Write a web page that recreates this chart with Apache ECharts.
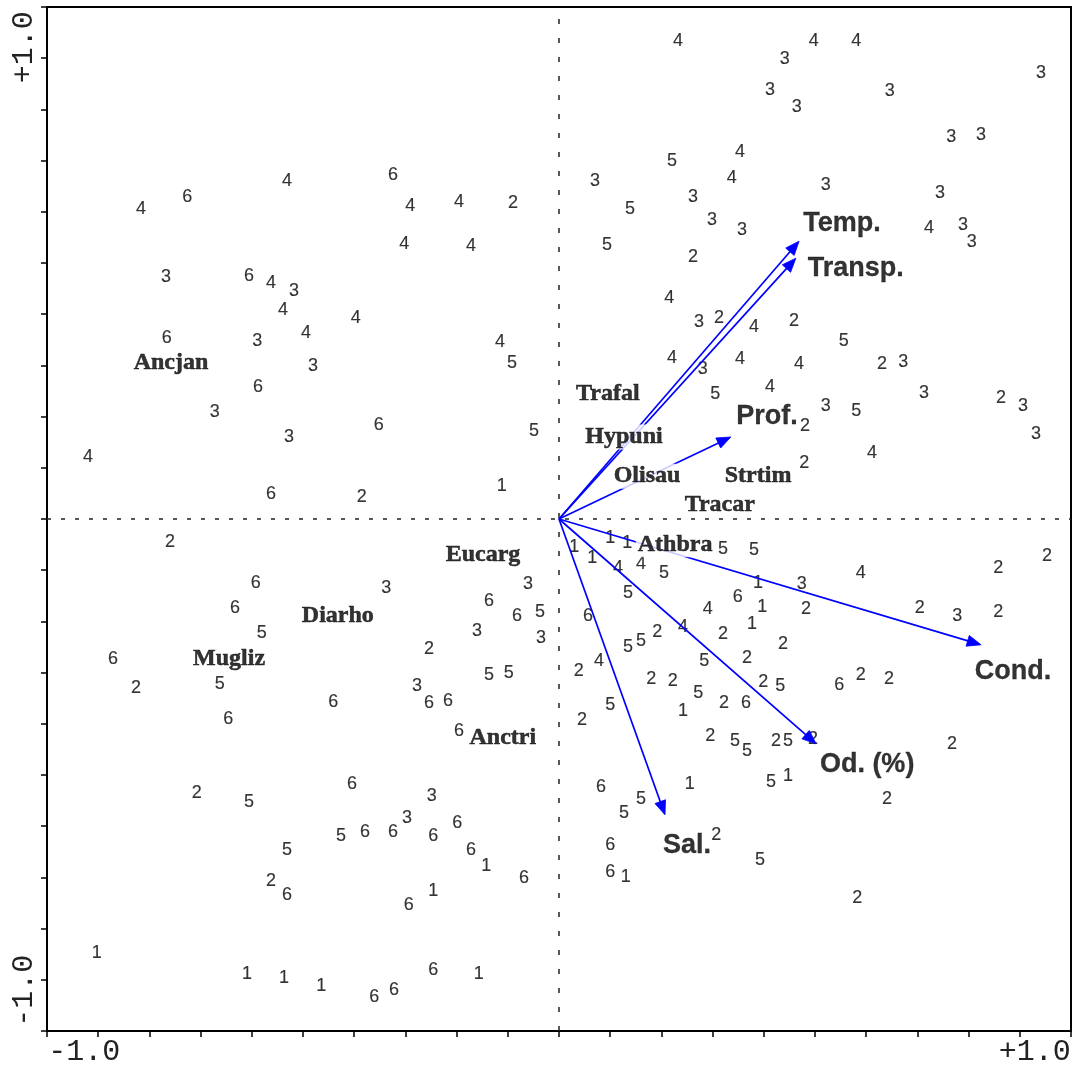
<!DOCTYPE html>
<html>
<head>
<meta charset="utf-8">
<script src="https://cdn.jsdelivr.net/npm/echarts@6/dist/echarts.min.js"></script>
<style>
  html, body { margin: 0; padding: 0; background: #fff; }
  #chart { width: 1074px; height: 1068px; }
</style>
</head>
<body>
<div id="chart"></div>
<script>
// Sample scores on ordination axes 1 and 2, grouped by class (drawn as the class number)
const class1 = [
  [0.033,-0.061],[0.111,-0.041],[0.148,-0.052],[0.072,-0.085],[-0.124,0.072],
  [0.432,-0.139],[0.441,-0.191],[0.419,-0.228],[0.269,-0.417],[0.284,-0.575],
  [0.497,-0.558],[0.145,-0.777],[-0.158,-0.753],[-0.273,-0.807],[-0.174,-0.987],
  [-1.003,-0.942],[-0.677,-0.987],[-0.597,-0.996],[-0.516,-1.013]
];
const class2 = [
  [-0.100,0.686],[0.291,0.569],[0.347,0.436],[0.510,0.430],[0.701,0.336],
  [0.959,0.263],[0.534,0.202],[0.532,0.122],[-0.428,0.048],[-0.844,-0.050],
  [1.059,-0.080],[0.953,-0.106],[0.536,-0.195],[0.783,-0.193],[0.953,-0.202],
  [0.356,-0.250],[0.213,-0.245],[0.486,-0.271],[0.408,-0.302],[-0.282,-0.282],
  [0.043,-0.330],[0.200,-0.347],[0.247,-0.352],[0.443,-0.354],[0.655,-0.339],
  [0.716,-0.347],[-0.918,-0.367],[0.050,-0.436],[0.358,-0.399],[0.328,-0.471],
  [0.471,-0.482],[0.551,-0.477],[0.853,-0.488],[0.712,-0.608],[0.341,-0.686],
  [0.647,-0.822],[-0.786,-0.595],[-0.625,-0.786]
];
const class3 = [
  [0.490,0.998],[1.046,0.968],[0.458,0.931],[0.718,0.929],[0.516,0.894],
  [0.851,0.829],[0.916,0.833],[0.078,0.734],[0.579,0.725],[0.827,0.707],
  [0.291,0.699],[0.332,0.649],[0.397,0.627],[0.877,0.638],[0.896,0.601],
  [-0.853,0.525],[-0.575,0.495],[-0.655,0.386],[0.304,0.428],[-0.534,0.332],
  [0.312,0.326],[0.747,0.341],[-0.747,0.232],[0.792,0.273],[0.579,0.245],
  [1.007,0.245],[1.035,0.184],[-0.586,0.178],[-0.375,-0.150],[-0.067,-0.141],
  [-0.178,-0.243],[-0.039,-0.258],[0.527,-0.141],[0.864,-0.211],[-0.308,-0.362],
  [-0.276,-0.601],[-0.330,-0.649]
];
const class4 = [
  [0.258,1.037],[0.553,1.037],[0.645,1.037],[0.393,0.796],[0.375,0.740],
  [-0.907,0.673],[-0.590,0.734],[-0.323,0.679],[-0.217,0.688],[-0.336,0.597],
  [-0.191,0.592],[0.803,0.632],[-0.625,0.512],[-0.599,0.454],[-0.441,0.436],
  [-0.549,0.404],[0.239,0.480],[0.423,0.417],[-0.128,0.384],[0.245,0.349],
  [0.393,0.347],[0.521,0.336],[0.458,0.286],[0.679,0.143],[-1.022,0.135],
  [0.128,-0.106],[0.178,-0.098],[0.655,-0.117],[0.269,-0.234],[0.323,-0.195],
  [0.087,-0.308]
];
const class5 = [
  [0.245,0.777],[0.154,0.673],[0.104,0.595],[0.618,0.386],[-0.102,0.339],
  [0.339,0.271],[0.645,0.234],[-0.054,0.191],[0.356,-0.065],[0.423,-0.067],
  [0.228,-0.117],[0.150,-0.161],[-0.041,-0.202],[-0.645,-0.247],[0.150,-0.278],
  [0.178,-0.265],[0.315,-0.308],[-0.736,-0.358],[-0.152,-0.339],[-0.109,-0.334],
  [0.302,-0.378],[0.480,-0.362],[0.111,-0.404],[0.382,-0.482],[0.408,-0.503],
  [0.497,-0.482],[0.460,-0.571],[-0.673,-0.614],[0.178,-0.608],[0.141,-0.638],
  [0.436,-0.740],[-0.590,-0.718],[-0.473,-0.688]
];
const class6 = [
  [-0.807,0.699],[-0.360,0.747],[-0.673,0.527],[-0.851,0.393],[-0.653,0.286],
  [-0.391,0.204],[-0.625,0.054],[-0.658,-0.139],[-0.703,-0.193],[-0.968,-0.304],
  [-0.490,-0.397],[-0.718,-0.434],[-0.152,-0.178],[-0.091,-0.211],[0.063,-0.211],
  [0.388,-0.169],[-0.282,-0.399],[-0.241,-0.395],[-0.217,-0.460],[0.406,-0.399],
  [0.608,-0.360],[-0.449,-0.575],[-0.421,-0.679],[-0.360,-0.679],[-0.273,-0.688],
  [-0.221,-0.660],[-0.191,-0.718],[-0.076,-0.779],[-0.326,-0.838],[-0.590,-0.816],
  [-0.273,-0.979],[-0.401,-1.037],[-0.358,-1.022],[0.091,-0.582],[0.111,-0.707],
  [0.111,-0.766]
];

// Species scores
const speciesNames = ['Ancjan','Trafal','Hypuni','Olisau','Strtim','Tracar','Athbra','Eucarg','Diarho','Mugliz','Anctri'];
const speciesScores = [
  [-0.842,0.339],[0.106,0.271],[0.141,0.178],[0.191,0.093],[0.432,0.093],[0.349,0.030],
  [0.252,-0.056],[-0.165,-0.078],[-0.480,-0.211],[-0.716,-0.304],[-0.122,-0.475]
];

// Environmental variables (arrow tips)
const envNames = ['Temp.','Transp.','Prof.','Cond.','Od. (%)','Sal.'];
const envScores = [
  [0.521,0.603],[0.514,0.566],[0.373,0.178],[0.916,-0.273],[0.558,-0.488],[0.230,-0.642]
];

// Axis end labels
const axisEndValues = [-1, 1];
const axisEndLabels = ['-1.0', '+1.0'];

// ---- layout / styling ----
const STEP = 1 / 9;            // minor tick spacing
const LIM = 10 * STEP;          // axis extent
const envLabelOffsets = [[43,-18],[60,10],[36,-20],[32,27],[51,21],[22,31]];
const HEAD_LEN = 14, HEAD_HALF = 5.6;
const ARROW_BLUE = '#0000ff';

function endLabel(v, tags) {
  for (let i = 0; i < axisEndValues.length; i++) {
    if (Math.abs(v - axisEndValues[i]) < 1e-6) return '{' + tags[i] + '|' + axisEndLabels[i] + '}';
  }
  return '';
}

const monoFont = "'Liberation Mono', 'DejaVu Sans Mono', monospace";
const inkStroke = w => ({ textBorderWidth: w, textBorderColor: '#000', textShadowBlur: 0 });

const classes = [class1, class2, class3, class4, class5, class6];
const siteSeries = classes.map((pts, i) => ({
  type: 'scatter',
  name: 'class' + (i + 1),
  data: pts,
  symbol: 'circle',
  symbolSize: 1,
  itemStyle: { color: 'rgba(0,0,0,0)' },
  z: 2,
  silent: true,
  label: Object.assign({
    show: true,
    position: 'inside',
    formatter: String(i + 1),
    color: '#000',
    fontFamily: "'Liberation Sans', Arial, sans-serif",
    fontSize: 18
  }, inkStroke(0.15))
}));

// dotted zero lines
siteSeries[0].markLine = {
  silent: true,
  symbol: 'none',
  animation: false,
  label: { show: false },
  lineStyle: { color: '#333', width: 1.4 },
  data: [
    { xAxis: 0, lineStyle: { type: [5, 14], color: '#222', width: 1.5 } },
    { yAxis: 0, lineStyle: { type: [4, 10], color: '#222', width: 1.5 } }
  ]
};

// biplot arrows from the origin to each variable score
const arrowSeries = {
  type: 'custom',
  z: 3,
  silent: true,
  data: envScores,
  renderItem: function (params, api) {
    const o = api.coord([0, 0]);
    const t = api.coord([api.value(0), api.value(1)]);
    const dx = t[0] - o[0], dy = t[1] - o[1];
    const len = Math.sqrt(dx * dx + dy * dy);
    const ux = dx / len, uy = dy / len;
    const bx = t[0] - ux * HEAD_LEN, by = t[1] - uy * HEAD_LEN;
    return {
      type: 'group',
      children: [
        {
          type: 'line',
          shape: { x1: o[0], y1: o[1], x2: bx + ux * 2, y2: by + uy * 2 },
          style: { stroke: ARROW_BLUE, lineWidth: 1.7, fill: null }
        },
        {
          type: 'polygon',
          shape: { points: [
            [t[0], t[1]],
            [bx - uy * HEAD_HALF, by + ux * HEAD_HALF],
            [bx + uy * HEAD_HALF, by - ux * HEAD_HALF]
          ] },
          style: { fill: ARROW_BLUE, stroke: ARROW_BLUE, lineWidth: 0.8, lineJoin: 'miter' }
        }
      ]
    };
  }
};

const speciesSeries = {
  type: 'scatter',
  zlevel: 1,
  z: 4,
  silent: true,
  symbolSize: 1,
  itemStyle: { color: 'rgba(0,0,0,0)' },
  data: speciesScores.map((p, i) => ({ value: p, name: speciesNames[i] })),
  label: Object.assign({
    show: true,
    position: 'inside',
    formatter: '{b}',
    color: '#000',
    fontFamily: "'Liberation Serif', 'Times New Roman', serif",
    fontWeight: 'bold',
    fontSize: 24,
    backgroundColor: '#fff',
    padding: [1, 2, 0, 2]
  }, inkStroke(0.5))
};

const envLabelSeries = {
  type: 'scatter',
  zlevel: 1,
  z: 5,
  silent: true,
  symbolSize: 1,
  itemStyle: { color: 'rgba(0,0,0,0)' },
  data: envScores.map((p, i) => ({
    value: p,
    name: envNames[i],
    label: { offset: envLabelOffsets[i] }
  })),
  label: Object.assign({
    show: true,
    position: 'inside',
    formatter: '{b}',
    color: '#000',
    fontFamily: "'Liberation Sans', Arial, sans-serif",
    fontWeight: 'bold',
    fontSize: 27,
    backgroundColor: '#fff',
    padding: [0, 1]
  }, inkStroke(0.3))
};

const chart = echarts.init(document.getElementById('chart'), null, { renderer: 'canvas' });
chart.setOption({
  animation: false,
  backgroundColor: '#fff',
  grid: {
    left: 47, top: 7, width: 1024, height: 1024,
    show: true, borderColor: '#000', borderWidth: 2, backgroundColor: '#fff'
  },
  xAxis: {
    type: 'value', min: -LIM, max: LIM, interval: STEP,
    axisLine: { show: true, onZero: false, lineStyle: { color: '#000', width: 2 } },
    axisTick: { show: true, inside: false, length: 6, lineStyle: { color: '#000', width: 1.5 } },
    splitLine: { show: false },
    axisLabel: {
      margin: 6,
      formatter: v => endLabel(v, ['l', 'r']),
      rich: {
        l: { fontFamily: monoFont, fontSize: 30, color: '#222', padding: [0, 28, 0, 0] },
        r: { fontFamily: monoFont, fontSize: 30, color: '#222', padding: [0, 0, 0, 30] }
      }
    }
  },
  yAxis: {
    type: 'value', min: -LIM, max: LIM, interval: STEP,
    axisLine: { show: true, onZero: false, lineStyle: { color: '#000', width: 2 } },
    axisTick: { show: true, inside: false, length: 6, lineStyle: { color: '#000', width: 1.5 } },
    splitLine: { show: false },
    axisLabel: {
      margin: 8,
      rotate: 90,
      formatter: v => endLabel(v, ['b', 't']),
      rich: {
        b: { fontFamily: monoFont, fontSize: 30, color: '#222', padding: [0, 22, 0, 0] },
        t: { fontFamily: monoFont, fontSize: 30, color: '#222', padding: [0, 0, 0, 22] }
      }
    }
  },
  series: [...siteSeries, arrowSeries, speciesSeries, envLabelSeries]
});
</script>
</body>
</html>
